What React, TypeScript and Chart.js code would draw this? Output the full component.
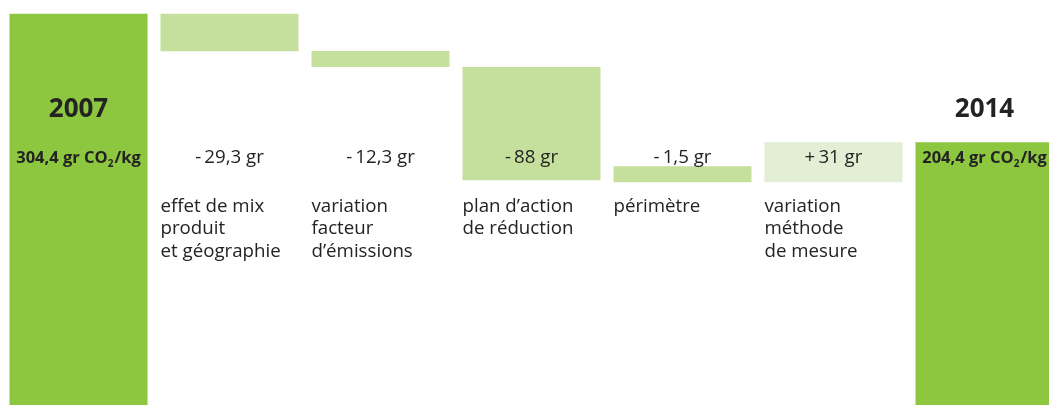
import React, { useEffect, useRef } from "react";
import { Chart, registerables } from "chart.js";

Chart.register(...registerables);

// Totals at both ends of the bridge (gr CO2 per kg)
const startYear = "2007";
const endYear = "2014";
const startTotal = 304.4;
const endTotal = 204.4;

// Intermediate variations (gr) and their captions
const stepValues = [-29.3, -12.3, -88, -1.5, 31];
const stepCaptions = [
  ["effet de mix", "produit", "et géographie"],
  ["variation", "facteur", "d’émissions"],
  ["plan d’action", "de réduction"],
  ["périmètre"],
  ["variation", "méthode", "de mesure"],
];

const totalColor = "#8dc63f";
const decreaseColor = "#c5df9c";
const increaseColor = "#e2efd5";
const textColor = "#232323";
const FONT = "'Open Sans', 'Noto Sans', sans-serif";

const fmt = (v: number) => String(Math.abs(v)).replace(".", ",");

// Floating bars: [from, to] for each step of the waterfall
const barRanges: [number, number][] = [];
const barColors: string[] = [];
barRanges.push([0, startTotal]);
barColors.push(totalColor);
{
  let running = startTotal;
  for (const v of stepValues) {
    const next = running + v;
    barRanges.push([running, next]);
    barColors.push(v < 0 ? decreaseColor : increaseColor);
    running = next;
  }
}
barRanges.push([0, endTotal]);
barColors.push(totalColor);

const xLabels = [startYear, ...stepCaptions.map((c) => c.join(" ")), endYear];

function drawTotalLabel(ctx: CanvasRenderingContext2D, value: number, cx: number, baseline: number) {
  const main = `${fmt(value)} gr CO`;
  const sub = "2";
  const tail = "/kg";
  const mainFont = `bold 16.5px ${FONT}`;
  const subFont = `bold 10px ${FONT}`;
  ctx.font = mainFont;
  const wMain = ctx.measureText(main).width;
  const wTail = ctx.measureText(tail).width;
  ctx.font = subFont;
  const wSub = ctx.measureText(sub).width;
  let x = cx - (wMain + wSub + 1 + wTail) / 2;
  ctx.textAlign = "left";
  ctx.textBaseline = "alphabetic";
  ctx.font = mainFont;
  ctx.fillText(main, x, baseline);
  x += wMain;
  ctx.font = subFont;
  ctx.fillText(sub, x, baseline + 4);
  x += wSub + 1;
  ctx.font = mainFont;
  ctx.fillText(tail, x, baseline);
}

const labelPlugin = {
  id: "waterfallLabels",
  afterDatasetsDraw(chart: any) {
    const ctx: CanvasRenderingContext2D = chart.ctx;
    const meta = chart.getDatasetMeta(0);
    const last = meta.data.length - 1;
    ctx.save();
    ctx.fillStyle = textColor;
    meta.data.forEach((bar: any, i: number) => {
      const { x, width } = bar.getProps(["x", "width"], true);
      const left = x - width / 2;
      if (i === 0 || i === last) {
        ctx.font = `bold 26px ${FONT}`;
        ctx.textAlign = "center";
        ctx.textBaseline = "alphabetic";
        ctx.fillText(i === 0 ? startYear : endYear, x, 117);
        drawTotalLabel(ctx, i === 0 ? startTotal : endTotal, x, 163);
      } else {
        const v = stepValues[i - 1];
        ctx.font = `18.7px ${FONT}`;
        ctx.textAlign = "center";
        ctx.textBaseline = "alphabetic";
        ctx.fillText(`${v < 0 ? "-" : "+"}\u2009${fmt(v)} gr`, x, 163);
        ctx.textAlign = "left";
        stepCaptions[i - 1].forEach((line, k) => {
          ctx.fillText(line, left, 212 + k * 22.4);
        });
      }
    });
    ctx.restore();
  },
};

export default function App() {
  const canvasRef = useRef<HTMLCanvasElement | null>(null);

  useEffect(() => {
    const canvas = canvasRef.current;
    if (!canvas) return;
    const chart = new Chart(canvas, {
      type: "bar",
      data: {
        labels: xLabels,
        datasets: [
          {
            data: barRanges as any,
            backgroundColor: barColors,
            borderWidth: 0,
            barPercentage: 1,
            categoryPercentage: 138 / 151,
            minBarLength: 16,
          },
        ],
      },
      options: {
        responsive: false,
        animation: false,
        devicePixelRatio: 1,
        layout: { padding: { left: 3, right: 0, top: 0, bottom: 0 } },
        plugins: {
          legend: { display: false },
          tooltip: { enabled: false },
        },
        scales: {
          x: { display: false, grid: { display: false } },
          y: { display: false, min: 0, max: 315, grid: { display: false } },
        },
      },
      plugins: [labelPlugin],
    });
    return () => chart.destroy();
  }, []);

  return (
    <div
      style={{
        position: "fixed",
        left: 0,
        top: 0,
        width: 1049,
        height: 405,
        overflow: "hidden",
        background: "#ffffff",
      }}
    >
      <canvas ref={canvasRef} width={1060} height={405} style={{ width: 1060, height: 405, display: "block" }} />
    </div>
  );
}
